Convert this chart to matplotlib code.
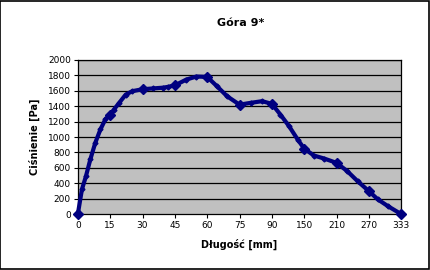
import numpy as np
import matplotlib
matplotlib.use("Agg")
import matplotlib.pyplot as plt

# category ticks of the original chart (evenly spaced on the axis)
tick_mm = [0, 15, 30, 45, 60, 75, 90, 150, 210, 270, 333]

# length [mm] and pressure [Pa]
dlugosc = [0, 1.9, 3.75, 5.8, 8.1, 10.5, 12.8, 15, 16.7, 19.1, 22.2, 25.3, 30,
           34.7, 39.4, 41.7, 45, 50.3, 55, 60, 64.5, 69.2, 75, 80.1, 85.5, 90,
           106, 122, 138, 150, 168, 187, 210, 230, 249, 270, 287.6, 307, 333]
cisnienie = [0, 320, 490, 710, 925, 1100, 1230, 1290, 1355, 1440, 1550, 1595, 1620,
             1630, 1640, 1650, 1670, 1745, 1785, 1780, 1660, 1530, 1420, 1443, 1465, 1430,
             1290, 1140, 967, 850, 760, 721, 665, 557, 428, 298, 190, 104, 0]

idx = np.arange(len(tick_mm))


def fwd(x):
    return np.interp(x, tick_mm, idx)


def inv(x):
    return np.interp(x, idx, tick_mm)


fig = plt.figure(figsize=(4.3, 2.7), dpi=100)
fig.patch.set_facecolor("white")
fig.add_artist(plt.Rectangle((0.001, 0.002), 0.997, 0.995, transform=fig.transFigure,
                             fill=False, edgecolor="black", linewidth=1.2))

ax = fig.add_axes([0.181, 0.207, 0.752, 0.571])
ax.set_facecolor("#C0C0C0")
ax.set_xscale("function", functions=(fwd, inv))

for v in range(200, 2001, 200):
    ax.axhline(v, color="black", linewidth=0.9, zorder=1)

ax.plot(dlugosc, cisnienie, color="#000080", linewidth=3, marker="D",
        markersize=2.5, zorder=3, clip_on=False)
# diamonds at the labelled points
main_x = [x for x in dlugosc if x in tick_mm]
main_y = [y for x, y in zip(dlugosc, cisnienie) if x in tick_mm]
ax.plot(main_x, main_y, linestyle="none", marker="D", markersize=5,
        color="#000080", zorder=4, clip_on=False)

ax.set_xlim(0, 333)
ax.set_ylim(0, 2000)
ax.set_xticks(tick_mm)
ax.set_xticklabels([str(t) for t in tick_mm])
ax.set_yticks(range(0, 2001, 200))
ax.tick_params(axis="both", labelsize=6.5, length=3, width=0.8, direction="out", pad=2)
for s in ax.spines.values():
    s.set_linewidth(0.9)

ax.set_xlabel("Długość [mm]", fontsize=7, fontweight="bold", labelpad=6)
ax.set_ylabel("Ciśnienie [Pa]", fontsize=7, fontweight="bold", labelpad=6)
fig.text(0.56, 0.915, "Góra 9*", fontsize=8, fontweight="bold", ha="center", va="center")

fig.savefig("out.png", dpi=100)
